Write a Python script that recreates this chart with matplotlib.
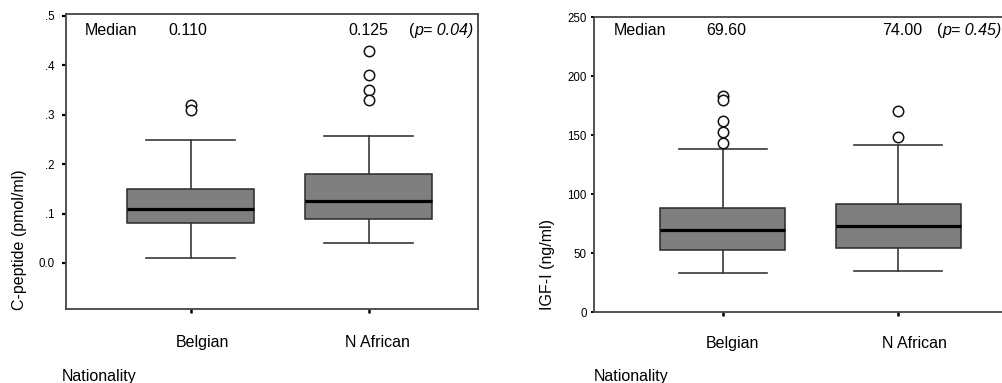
import matplotlib
matplotlib.use("Agg")
import matplotlib.pyplot as plt

plt.rcParams['font.family'] = ['Liberation Sans', 'DejaVu Sans']

# ---- data ----
categories = ["Belgian", "N African"]

cpep_q1 = [0.08, 0.09]
cpep_med = [0.110, 0.125]
cpep_q3 = [0.15, 0.18]
cpep_lo = [0.01, 0.04]
cpep_hi = [0.248, 0.258]
cpep_fliers = [[0.32, 0.31], [0.43, 0.38, 0.35, 0.33]]
cpep_median_text = ["0.110", "0.125"]
cpep_p = "0.04"
cpep_yticks = [0.0, 0.1, 0.2, 0.3, 0.4, 0.5]
cpep_yticklabels = ["0.0", ".1", ".2", ".3", ".4", ".5"]

igf_q1 = [53.1, 54.2]
igf_med = [69.6, 73.5]
igf_q3 = [88.4, 91.5]
igf_lo = [33.6, 35.3]
igf_hi = [138.4, 141.8]
igf_fliers = [[183.6, 180.2, 161.9, 152.5, 143.5], [170.6, 148.9]]
igf_median_text = ["69.60", "74.00"]
igf_p = "0.45"
igf_yticks = [0, 50, 100, 150, 200, 250]
igf_yticklabels = ["0", "50", "100", "150", "200", "250"]

W, H = 1003, 383
fig = plt.figure(figsize=(W / 100, H / 100), dpi=100)


def fx(x):
    return x / W


def fy(y):
    return 1 - y / H


def rect(l, t, r, b):
    return [fx(l), fy(b), fx(r) - fx(l), fy(t) - fy(b)]


ax1 = fig.add_axes(rect(65.7, 14.3, 478, 308.5))
ax2 = fig.add_axes(rect(594.3, 17.3, 1006, 312.3))

box_col = "#7f7f7f"
line_col = "#383838"


def draw(ax, q1, med, q3, lo, hi, fliers):
    stats = []
    for i in range(len(q1)):
        stats.append(dict(q1=q1[i], med=med[i], q3=q3[i], whislo=lo[i],
                          whishi=hi[i], fliers=fliers[i], label=categories[i]))
    ax.bxp(stats, positions=[1, 2], widths=0.713, patch_artist=True,
           boxprops=dict(facecolor=box_col, edgecolor="#2a2a2a", linewidth=1.1),
           medianprops=dict(color="black", linewidth=2.3),
           whiskerprops=dict(color=line_col, linewidth=1.2),
           capprops=dict(color=line_col, linewidth=1.2),
           capwidths=0.5,
           flierprops=dict(marker="o", markerfacecolor="white",
                           markeredgecolor="#111111", markersize=7.5,
                           markeredgewidth=1.1))
    for s in ax.spines.values():
        s.set_color("#444444")
        s.set_linewidth(1.3)
    ax.set_xticks([1, 2])
    ax.tick_params(axis="x", direction="out", length=3, width=1.8,
                   labelbottom=False, color="black")


draw(ax1, cpep_q1, cpep_med, cpep_q3, cpep_lo, cpep_hi, cpep_fliers)
draw(ax2, igf_q1, igf_med, igf_q3, igf_lo, igf_hi, igf_fliers)

ax1.set_xlim(0.299, 2.614)
ax1.set_ylim(-0.0921, 0.5034)
ax1.set_yticks(cpep_yticks)
ax1.set_yticklabels(cpep_yticklabels)
ax1.tick_params(axis="y", direction="out", length=3, width=1.6, pad=5,
                labelsize=8.3, color="black")

ax2.set_xlim(0.267, 2.615)
ax2.set_ylim(0, 250)
ax2.set_yticks(igf_yticks)
ax2.set_yticklabels(igf_yticklabels)
ax2.tick_params(axis="y", direction="out", length=2.5, width=1.4, pad=3,
                labelsize=8.3, color="black")

fs = 11.5


def header(xm, xv1, xv2, xp, y, vals, p):
    fig.text(fx(xm), fy(y), "Median", fontsize=fs, ha="left", va="center")
    fig.text(fx(xv1), fy(y), vals[0], fontsize=fs, ha="left", va="center")
    fig.text(fx(xv2), fy(y), vals[1], fontsize=fs, ha="left", va="center")
    fig.text(fx(xp), fy(y), "(", fontsize=fs, ha="left", va="center")
    fig.text(fx(xp + 5.3), fy(y), "p= " + p + ")", fontsize=fs,
             style="italic", ha="left", va="center")


header(85, 168, 348, 409, 30.7, cpep_median_text, cpep_p)
header(614, 706, 881.7, 937, 30.7, igf_median_text, igf_p)

fig.text(fx(20), fy(239.5), "C-peptide (pmol/ml)", fontsize=fs,
         rotation=90, ha="center", va="center")
fig.text(fx(548), fy(265), "IGF-I (ng/ml)", fontsize=fs,
         rotation=90, ha="center", va="center")

for xc, lab in zip([202.5, 377], categories):
    fig.text(fx(xc), fy(342.7), lab, fontsize=fs, ha="center", va="center")
for xc, lab in zip([732, 914], categories):
    fig.text(fx(xc), fy(343.3), lab, fontsize=fs, ha="center", va="center")

fig.text(fx(62), fy(376), "Nationality", fontsize=fs, ha="left", va="center")
fig.text(fx(594), fy(376), "Nationality", fontsize=fs, ha="left", va="center")

fig.savefig("out.png", dpi=100)
